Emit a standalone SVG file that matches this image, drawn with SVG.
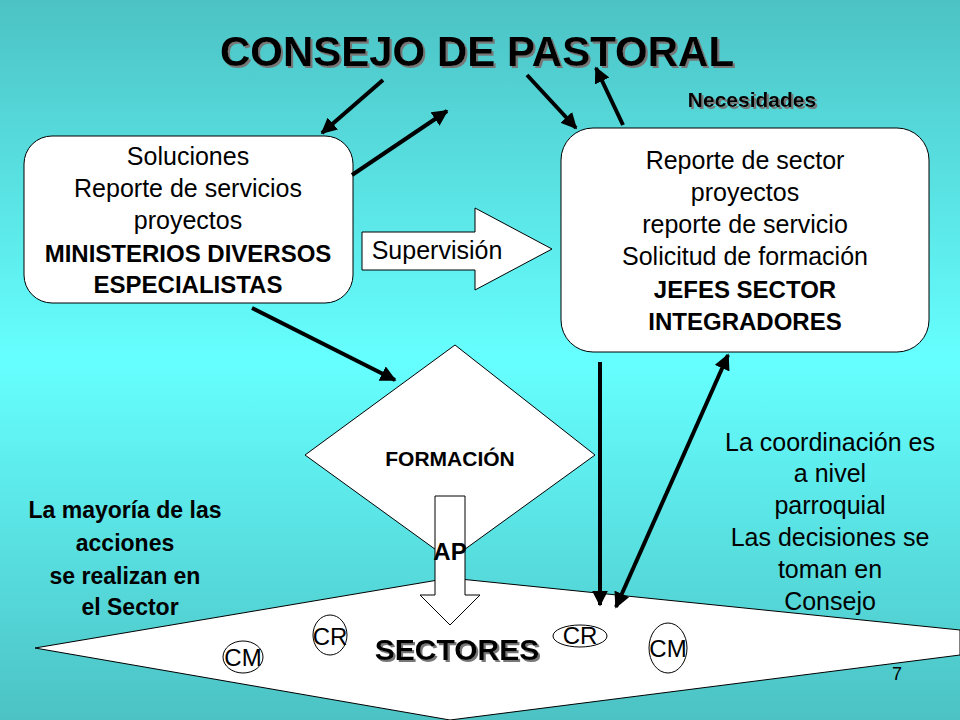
<svg xmlns="http://www.w3.org/2000/svg" width="960" height="720" viewBox="0 0 960 720">
<defs>
<linearGradient id="bg" x1="0" y1="0" x2="0" y2="1">
<stop offset="0" stop-color="#4cc2c4"/><stop offset="0.5" stop-color="#66ffff"/><stop offset="1" stop-color="#4cc2c4"/>
</linearGradient>
<marker id="ah" viewBox="0 0 10 10" refX="9" refY="5" markerWidth="4" markerHeight="4" orient="auto-start-reverse"><path d="M0,0 L10,5 L0,10 Z" fill="#000"/></marker>
<filter id="sh"><feDropShadow dx="2" dy="2" stdDeviation="0.5" flood-color="#777"/></filter>
</defs>
<style>
text{font-family:"Liberation Sans",Arial,sans-serif;fill:#000;text-anchor:middle}
.t{font-size:25px}
.b{font-size:25px;font-weight:bold}
.s{font-size:24px}
.c line{stroke:#000;stroke-width:4;marker-end:url(#ah)}
.w{fill:#fff;stroke:#000;stroke-width:1}
</style>
<rect width="960" height="720" fill="url(#bg)"/>
<text x="477" y="66" style="font-size:42px;font-weight:bold" filter="url(#sh)">CONSEJO DE PASTORAL</text>
<text x="752" y="107" style="font-size:21px;font-weight:bold" filter="url(#sh)">Necesidades</text>
<g id="ministerios">
<rect class="w" x="24" y="136" width="329" height="167" rx="28"/>
<text class="t" x="188" y="165">Soluciones</text>
<text class="t" x="188" y="197">Reporte de servicios</text>
<text class="t" x="188" y="229">proyectos</text>
<text class="b" x="188" y="262" style="font-size:24px">MINISTERIOS DIVERSOS</text>
<text class="b" x="188" y="293" style="font-size:24px">ESPECIALISTAS</text>
</g>
<g id="jefes">
<rect class="w" x="561" y="128" width="368" height="224" rx="32"/>
<text class="t" x="745" y="169">Reporte de sector</text>
<text class="t" x="745" y="201">proyectos</text>
<text class="t" x="745" y="233">reporte de servicio</text>
<text class="t" x="745" y="265">Solicitud de formación</text>
<text class="b" x="745" y="298" style="font-size:24px">JEFES SECTOR</text>
<text class="b" x="745" y="330" style="font-size:24px">INTEGRADORES</text>
</g>
<g id="supervision">
<path class="w" d="M362,232 H475 V208 L552,249 L475,290 V270 H362 Z"/>
<text class="t" x="437" y="259">Supervisión</text>
</g>
<g id="sectores">
<polygon class="w" points="35,648 450,578 960,630 960,655 450,720"/>
<text x="457" y="660" style="font-size:30px;font-weight:bold" filter="url(#sh)">SECTORES</text>
<ellipse cx="330" cy="635" rx="17" ry="20" fill="none" stroke="#000"/>
<text class="s" x="330" y="645">CR</text>
<ellipse cx="243" cy="657" rx="20" ry="16" fill="none" stroke="#000"/>
<text class="s" x="243" y="666">CM</text>
<ellipse cx="580" cy="636" rx="27" ry="11" fill="none" stroke="#000"/>
<text class="s" x="580" y="644">CR</text>
<ellipse cx="668" cy="648" rx="19" ry="25" fill="none" stroke="#000"/>
<text class="s" x="668" y="657">CM</text>
</g>
<g id="formacion">
<polygon class="w" points="455,345 595,455 450,560 305,455"/>
<text x="450" y="466" style="font-size:21px;font-weight:bold">FORMACIÓN</text>
</g>
<g id="ap">
<path class="w" d="M435,496 H465 V595 H480 L450,625 L420,595 H435 Z"/>
<text x="450" y="560" style="font-size:24px;font-weight:bold">AP</text>
</g>
<g class="c">
<line x1="383" y1="80" x2="322" y2="133"/>
<line x1="352" y1="175" x2="447" y2="111"/>
<line x1="527" y1="75" x2="576" y2="128"/>
<line x1="623" y1="125" x2="596" y2="68"/>
<line x1="252" y1="308" x2="395" y2="380"/>
<line x1="600" y1="362" x2="600" y2="605"/>
<line x1="728" y1="355" x2="616" y2="607" style="marker-start:url(#ah)"/>
</g>
<text class="b" x="125" y="518" style="font-size:23px">La mayoría de las</text>
<text class="b" x="125" y="551" style="font-size:23px">acciones</text>
<text class="b" x="125" y="584" style="font-size:23px">se realizan en</text>
<text class="b" x="130" y="615" style="font-size:23px">el Sector</text>
<text class="t" x="830" y="451">La coordinación es</text>
<text class="t" x="830" y="482">a nivel</text>
<text class="t" x="830" y="514">parroquial</text>
<text class="t" x="830" y="546">Las decisiones se</text>
<text class="t" x="830" y="578">toman en</text>
<text class="t" x="830" y="610">Consejo</text>
<text x="897" y="680" style="font-size:18px">7</text>
</svg>
